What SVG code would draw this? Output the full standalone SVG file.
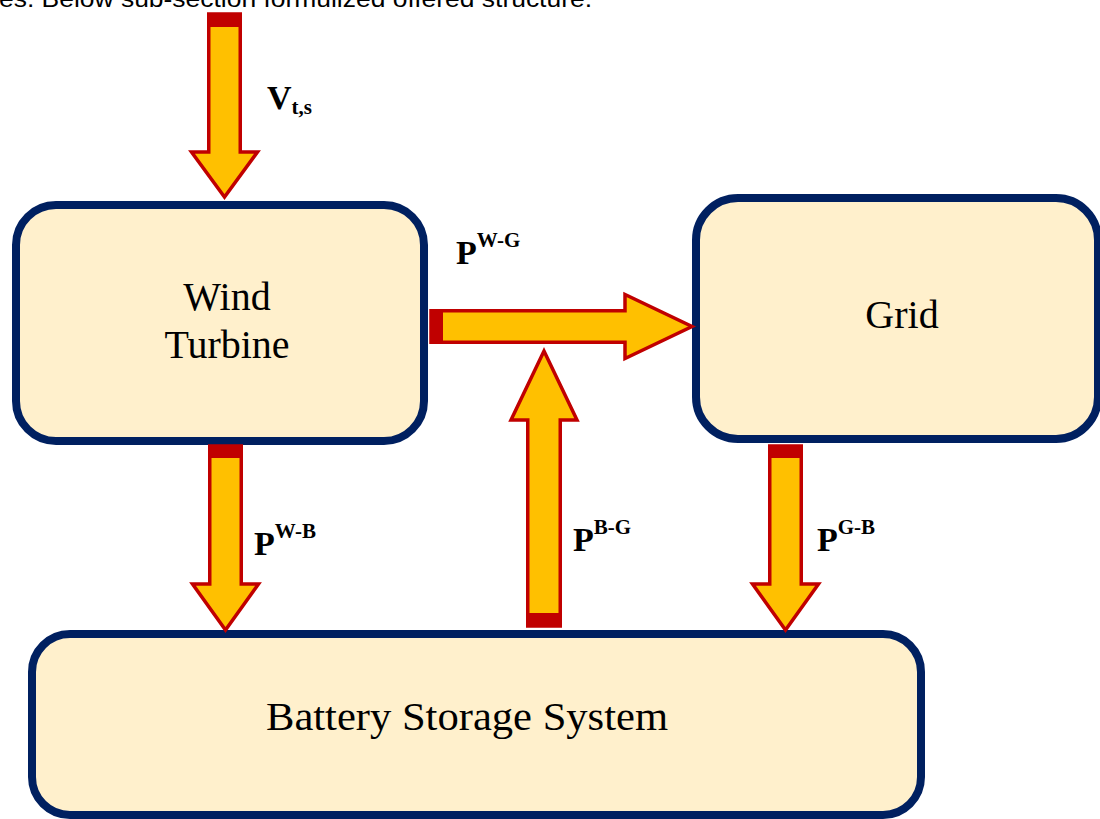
<svg xmlns="http://www.w3.org/2000/svg" width="1100" height="819" viewBox="0 0 1100 819">
<style>
.box{fill:#FFF0CC;stroke:#002060;stroke-width:8}
.arr{fill:#FFC000;stroke:#C00000;stroke-width:3.5;stroke-linejoin:miter}
.cap{fill:#C00000}
.node{font-family:"Liberation Serif","Times New Roman",serif;font-size:40px;fill:#000;text-anchor:middle}
.lbl{font-family:"Liberation Serif","Times New Roman",serif;font-weight:bold;fill:#000}
.top{font-family:"Liberation Sans",Arial,sans-serif;font-size:24px;fill:#000}
</style>
<rect width="1100" height="819" fill="#fff"/>
<text class="top" x="-1" y="7" textLength="593" lengthAdjust="spacingAndGlyphs">es. Below sub-section formulized offered structure.</text>
<g id="wind-turbine">
<rect class="box" x="16" y="205" width="408" height="236" rx="40"/>
<text class="node" x="227" y="310">Wind</text>
<text class="node" x="227" y="358">Turbine</text>
</g>
<g id="grid">
<rect class="box" x="696" y="198" width="402" height="241" rx="42"/>
<text class="node" x="902" y="328">Grid</text>
</g>
<g id="battery">
<rect class="box" x="32" y="634" width="889" height="181" rx="38"/>
<text class="node" x="467" y="730" textLength="402" lengthAdjust="spacingAndGlyphs">Battery Storage System</text>
</g>
<g id="connectors">
<polygon class="arr" points="208.75,14 240.25,14 240.25,152 257.5,152 224.5,197 191.5,152 208.75,152"/>
<rect class="cap" x="207" y="13" width="35" height="14"/>
<polygon class="arr" points="209.75,446 241.25,446 241.25,584 258.5,584 225.5,630 192.5,584 209.75,584"/>
<rect class="cap" x="208" y="445" width="35" height="13"/>
<polygon class="arr" points="769.75,446 801.25,446 801.25,584 818.5,584 785.5,630 752.5,584 769.75,584"/>
<rect class="cap" x="768" y="445" width="35" height="13"/>
<polygon class="arr" points="527.75,626 560.25,626 560.25,420 577,420 544,351 511,420 527.75,420"/>
<rect class="cap" x="526" y="613" width="36" height="14"/>
<polygon class="arr" points="431,310.75 625,310.75 625,294.5 692,326.5 625,358.5 625,342.25 431,342.25"/>
<rect class="cap" x="430" y="309" width="13" height="35"/>
</g>
<g id="labels">
<text class="lbl" x="267" y="109" font-size="34">V<tspan font-size="21" dy="5">t,s</tspan></text>
<text class="lbl" x="456" y="264" font-size="34">P<tspan font-size="21" dy="-17">W-G</tspan></text>
<text class="lbl" x="254" y="555" font-size="34">P<tspan font-size="21" dy="-17">W-B</tspan></text>
<text class="lbl" x="573" y="551" font-size="34">P<tspan font-size="21" dy="-17">B-G</tspan></text>
<text class="lbl" x="817" y="551" font-size="34">P<tspan font-size="21" dy="-17">G-B</tspan></text>
</g>
</svg>
